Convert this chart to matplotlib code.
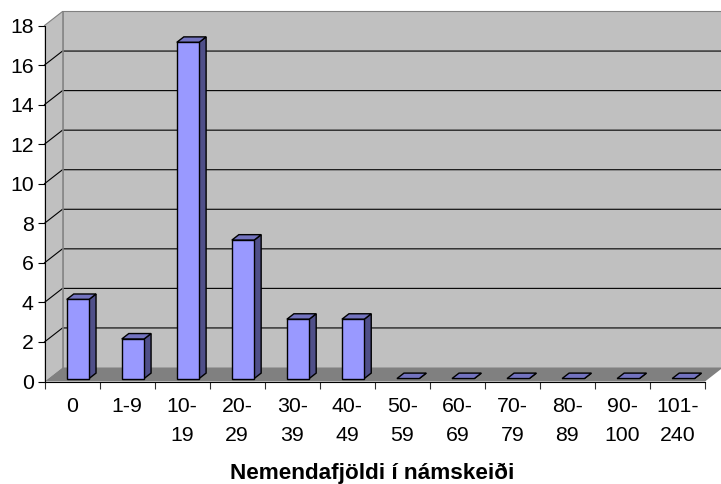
from matplotlib import pyplot as plt
from matplotlib.patches import Polygon

plt.rcParams["font.family"] = ["Liberation Sans", "DejaVu Sans"]

categories = ["0", "1-9", "10-\n19", "20-\n29", "30-\n39", "40-\n49", "50-\n59",
              "60-\n69", "70-\n79", "80-\n89", "90-\n100", "101-\n240"]
values = [4, 2, 17, 7, 3, 3, 0, 0, 0, 0, 0, 0]
y_ticks = list(range(0, 20, 2))
x_title = "Nemendafjöldi í námskeiði"

W, H = 721, 484
# framhlid grafsins i pixlum
LEFT, RIGHT, BOTTOM, TOP = 44.5, 705, 381.5, 25.5
# dypt grafsins, breytt i einingar asanna
DX = 18 / ((RIGHT - LEFT) / len(categories))
DY = 14 / ((BOTTOM - TOP) / 18)


def at_depth(x, y, t):
    """Faerir punkt aftur i grafid, t=0 framan, t=1 aftast"""
    return (x + DX * t, y + DY * t)


def poly(ax, pts, color, edge="none", lw=1.0, z=1):
    ax.add_patch(Polygon(pts, closed=True, facecolor=color, edgecolor=edge,
                         linewidth=lw, zorder=z, clip_on=False, joinstyle="miter"))


def draw_walls(ax, n, ymax):
    poly(ax, [at_depth(0, 0, 1), at_depth(0, ymax, 1), at_depth(n, ymax, 1), at_depth(n, 0, 1)], "#C0C0C0")
    poly(ax, [(0, 0), (0, ymax), at_depth(0, ymax, 1), at_depth(0, 0, 1)], "#C0C0C0")
    poly(ax, [(0, 0), at_depth(0, 0, 1), at_depth(n, 0, 1), (n, 0)], "#808080")
    for v in y_ticks:
        color = "#808080" if v in (0, ymax) else "black"
        if v > 0:
            x0, y0 = at_depth(0, v, 0)
            x1, y1 = at_depth(0, v, 1)
            x2, y2 = at_depth(n, v, 1)
            ax.plot([x0, x1, x2], [y0, y1, y2], color=color, lw=0.8, zorder=2, clip_on=False)
    # grar brun aftan a vinstri vegg
    x1, y1 = at_depth(0, 0, 1)
    x2, y2 = at_depth(0, ymax, 1)
    ax.plot([x1, x2], [y1, y2], color="#808080", lw=1.2, zorder=2, clip_on=False)


def draw_bars(ax, vals):
    t0, t1 = 0.21, 0.60
    offset, width = 0.335, 0.405
    for i, v in enumerate(vals):
        l = i + offset
        r = l + width
        # hlid, toppur, framhlid
        poly(ax, [at_depth(r, 0, t0), at_depth(r, v, t0), at_depth(r, v, t1), at_depth(r, 0, t1)],
             "#4F4F89", "black", 1.0, 3)
        poly(ax, [at_depth(l, v, t0), at_depth(r, v, t0), at_depth(r, v, t1), at_depth(l, v, t1)],
             "#7373BF", "black", 1.0, 3)
        if v > 0:
            poly(ax, [at_depth(l, 0, t0), at_depth(l, v, t0), at_depth(r, v, t0), at_depth(r, 0, t0)],
                 "#9999FF", "black", 1.0, 4)


def main():
    fig = plt.figure(figsize=(W / 100, H / 100), dpi=100)
    ax = fig.add_axes([LEFT / W, 1 - BOTTOM / H, (RIGHT - LEFT) / W, (BOTTOM - TOP) / H])
    ax.patch.set_visible(False)
    n = len(categories)
    ax.set_xlim(0, n)
    ax.set_ylim(0, 18)

    draw_walls(ax, n, 18)
    draw_bars(ax, values)

    ax.spines["top"].set_visible(False)
    ax.spines["right"].set_visible(False)
    ax.spines["left"].set_zorder(5)
    ax.spines["bottom"].set_zorder(5)
    ax.spines["left"].set_linewidth(0.8)
    ax.spines["bottom"].set_linewidth(0.8)
    ax.set_axisbelow(False)

    ax.set_yticks(y_ticks)
    ax.tick_params(axis="y", length=4.7, width=0.8, labelsize=15.3, pad=3)
    # strik milli flokka, merki a midjum flokkum
    ax.set_xticks(range(n + 1))
    ax.set_xticklabels([])
    ax.set_xticks([i + 0.5 for i in range(n)], labels=categories, minor=True)
    ax.tick_params(axis="x", which="major", length=4.8, width=0.8, color="#303030")
    ax.tick_params(axis="x", which="minor", length=0, labelsize=15.3, pad=11.4)
    for lab in ax.get_xticklabels(minor=True):
        lab.set_linespacing(1.62)
        lab.set_verticalalignment("top")

    # titillinn nanast vid nedri brun eins og i frumritinu
    fig.text(372.5 / W, 1 - 479.3 / H, x_title, fontsize=16.2, fontweight="bold", ha="center", va="baseline")
    fig.savefig("out.png", dpi=100)


if __name__ == '__main__':
    main()
